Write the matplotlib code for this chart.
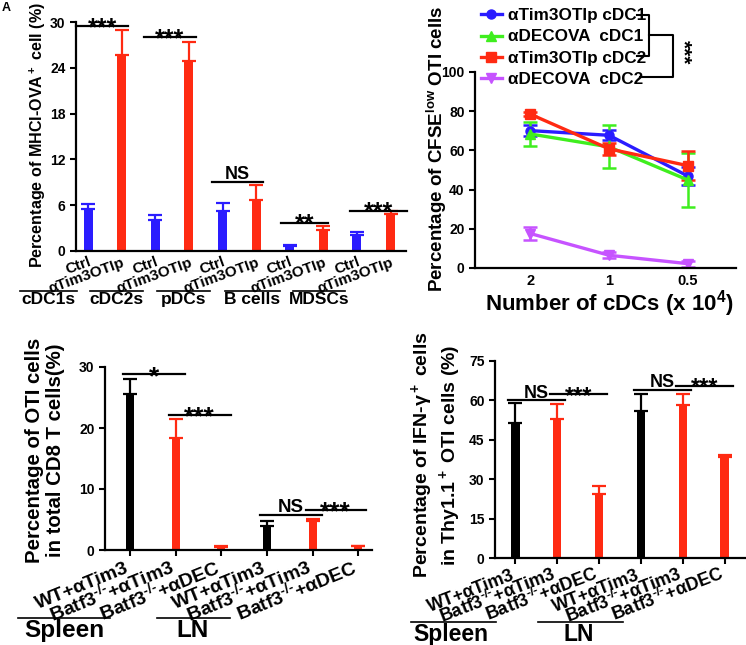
import numpy as np
import matplotlib
matplotlib.use('Agg')
import matplotlib.pyplot as plt
from matplotlib.lines import Line2D

plt.rcParams['font.family'] = ['Liberation Sans', 'DejaVu Sans']
plt.rcParams['font.weight'] = 'bold'
plt.rcParams['mathtext.fontset'] = 'custom'
plt.rcParams['mathtext.rm'] = 'Liberation Sans:bold'
plt.rcParams['mathtext.bf'] = 'Liberation Sans:bold'
plt.rcParams['mathtext.it'] = 'Liberation Sans:bold'
plt.rcParams['mathtext.default'] = 'bf'
plt.rcParams['axes.linewidth'] = 1.6

##
## Panel A data : MHCI-OVA+ cells
##
a_groups = ['cDC1s', 'cDC2s', 'pDCs', 'B cells', 'MDSCs']
a_labels = ['Ctrl', 'αTim3OTIp'] * 5
a_ctrl = [5.5, 4.0, 5.3, 0.6, 2.1]
a_ctrl_err = [0.65, 0.7, 1.0, 0.15, 0.4]
a_tim3 = [25.7, 24.9, 6.7, 2.8, 4.9]
a_tim3_err = [3.3, 2.5, 1.9, 0.5, 0.3]
a_sig = ['***', '***', 'NS', '**', '***']
a_sig_y = [29.5, 28.0, 9.1, 3.7, 5.3]

##
## Panel B data : CFSE low OTI cells
##
b_x = ['2', '1', '0.5']
b_names = ['αTim3OTIp cDC1', 'αDECOVA  cDC1', 'αTim3OTIp cDC2', 'αDECOVA  cDC2']
b_vals = [[70.1, 67.7, 46.9],
          [68.4, 61.8, 44.9],
          [78.5, 60.8, 52.2],
          [17.6, 6.5, 2.2]]
b_errs = [[3.0, 2.5, 4.5],
          [6.3, 11.0, 14.0],
          [1.0, 3.0, 7.5],
          [3.2, 1.5, 1.5]]

##
## Panel C / D data
##
cd_labels = ['WT+αTim3', 'Batf3$^{\u2010/\u2010}$+αTim3', 'Batf3$^{\u2010/\u2010}$+αDEC'] * 2
cd_groups = ['Spleen', 'LN']
c_vals = [25.5, 18.4, 0.55, 3.9, 4.8, 0.6]
c_errs = [2.6, 3.0, 0.15, 0.9, 0.3, 0.1]
d_vals = [51.5, 53.1, 24.3, 55.9, 58.2, 38.4]
d_errs = [7.7, 5.7, 3.0, 6.4, 4.4, 1.0]
c_sig = [('*', 0, 1, 28.8), ('***', 1, 2, 22.1), ('NS', 3, 4, 5.8), ('***', 4, 5, 6.6)]
d_sig = [('NS', 0, 1, 60.1), ('***', 1, 2, 62.3), ('NS', 3, 4, 64.0), ('***', 4, 5, 65.6)]

blue = '#2a1cff'
red = '#ff2a12'
green = '#3fee1e'
magenta = '#c653ff'
black = '#000000'

W, H = 746, 645
fig = plt.figure(figsize=(W/100, H/100), dpi=100)

def px_axes(l, r, t, b):
    return fig.add_axes([l/W, 1 - b/H, (r - l)/W, (b - t)/H])

def fig_line(xs, ys, lw=1.5):
    fig.add_artist(Line2D([x/W for x in xs], [1 - y/H for y in ys], color='k', lw=lw))

def group_label(x0, x1, y, txt, fs, xc=None):
    ## overline + group name, in figure pixels
    fig_line([x0, x1], [y, y], lw=1.2)
    if xc is None:
        xc = (x0 + x1) / 2
    fig.text(xc/W, 1 - (y + 1)/H, txt, ha='center', va='top', fontsize=fs, fontweight='bold')

def style(ax, ls=10):
    ax.spines['top'].set_visible(False)
    ax.spines['right'].set_visible(False)
    ax.tick_params(axis='both', which='major', direction='out', length=4, width=1.5, labelsize=ls)

def sig_line(ax, x0, x1, y, txt, fs_star=17, fs_ns=13):
    ax.plot([x0, x1], [y, y], color='k', lw=1.6, clip_on=False)
    if txt.startswith('*'):
        ax.annotate(txt, ((x0 + x1)/2, y), xytext=(0, -0.36*fs_star), textcoords='offset points',
                    ha='center', va='baseline', fontsize=fs_star, fontweight='bold', annotation_clip=False)
    else:
        ax.annotate(txt, ((x0 + x1)/2, y), xytext=(0, -1), textcoords='offset points',
                    ha='center', va='bottom', fontsize=fs_ns, fontweight='bold', annotation_clip=False)

def set_ylab(ax, txt, fs, x, y):
    lab = ax.set_ylabel(txt, fontsize=fs, fontweight='bold', linespacing=1.15)
    ax.yaxis.set_label_coords(x, y)
    lab.set_va('center')
    lab.set_ha('center')

##
## A
##
axA = px_axes(76, 406, 22, 251)
style(axA)
xa = np.arange(10)
for i in range(5):
    axA.bar(xa[2*i], a_ctrl[i], width=0.27, color=blue)
    axA.errorbar(xa[2*i], a_ctrl[i], yerr=[[0], [a_ctrl_err[i]]], color=blue, capsize=5, elinewidth=1.6, capthick=1.6)
    axA.bar(xa[2*i+1], a_tim3[i], width=0.27, color=red)
    axA.errorbar(xa[2*i+1], a_tim3[i], yerr=[[0], [a_tim3_err[i]]], color=red, capsize=5, elinewidth=1.6, capthick=1.6)
axA.set_xlim(-0.36, 9.46)
axA.set_ylim(0, 30)
axA.set_yticks([0, 6, 12, 18, 24, 30])
axA.set_xticks(xa)
axA.set_xticklabels(a_labels, rotation=20, ha='right', va='top', rotation_mode='anchor', fontsize=11)
axA.tick_params(axis='x', length=0, pad=3)
set_ylab(axA, 'Percentage of MHCI-OVA$^+$ cell (%)', 11.6, -0.115, 0.507)
sig_spans_a = [(-0.36, 1.2), (1.65, 3.2), (3.7, 5.2), (5.75, 7.15), (7.8, 9.5)]
for i in range(5):
    sig_line(axA, sig_spans_a[i][0], sig_spans_a[i][1], a_sig_y[i], a_sig[i], fs_star=18)
a_group_px = [(20, 77), (90, 143), (157, 210), (225, 280), (293, 345)]
for i in range(5):
    group_label(a_group_px[i][0], a_group_px[i][1], 291, a_groups[i], 12.5)
fig.text(2/W, 1 - 2/H, 'A', fontsize=9, fontweight='bold', va='top', ha='left')

##
## B
##
axB = px_axes(475, 736, 72, 268)
style(axB)
colors_b = [blue, green, red, magenta]
markers_b = ['o', '^', 's', 'v']
xb = np.arange(3)
handles = []
for k in range(4):
    axB.errorbar(xb, b_vals[k], yerr=b_errs[k], color=colors_b[k], marker=markers_b[k],
                 ms=6.5, lw=2.4, capsize=5, elinewidth=1.8, capthick=1.8)
    handles.append(Line2D([], [], color=colors_b[k], marker=markers_b[k], ms=6.5, lw=2.4, label=b_names[k]))
axB.set_xlim(-0.7, 2.61)
axB.set_ylim(0, 100)
axB.set_yticks([0, 20, 40, 60, 80, 100])
axB.set_xticks(xb)
axB.set_xticklabels(b_x, fontsize=10.5)
axB.tick_params(axis='x', length=0, pad=4)
set_ylab(axB, 'Percentage of CFSE$^{low}$ OTI cells', 13.5, -0.146, 0.607)
xl = axB.set_xlabel('Number of cDCs (x 10$^4$)', fontsize=16, fontweight='bold')
axB.xaxis.set_label_coords(0.517, -0.18)
xl.set_va('center')
leg = fig.legend(handles=handles, loc='upper left', bbox_to_anchor=(481/W, 1 - 8/H), frameon=False,
                 fontsize=12.3, handlelength=1.2, handletextpad=0.4, labelspacing=0.38, borderaxespad=0,
                 borderpad=0)
for t in leg.get_texts():
    t.set_fontweight('bold')
# bracket
fig_line([637, 649, 649, 637], [15, 15, 56, 56])
fig_line([649, 673, 673, 640], [35, 35, 77, 77])
fig.text(683/W, 1 - 52/H, '***', rotation=-90, ha='center', va='center', fontsize=15, fontweight='bold')

##
## C
##
axC = px_axes(105, 372, 367, 550)
style(axC)
xc = np.arange(6)
bar_cols = [black, red, red, black, red, red]
for i in range(6):
    axC.bar(xc[i], c_vals[i], width=0.18, color=bar_cols[i])
    axC.errorbar(xc[i], c_vals[i], yerr=[[0], [c_errs[i]]], color=bar_cols[i], capsize=5, elinewidth=1.6, capthick=1.6)
axC.set_xlim(-0.55, 5.3)
axC.set_ylim(0, 30)
axC.set_yticks([0, 10, 20, 30])
axC.set_xticks(xc)
axC.set_xticklabels(cd_labels, rotation=22, ha='right', va='baseline', rotation_mode='anchor', fontsize=14)
axC.tick_params(axis='x', length=4, pad=12)
set_ylab(axC, 'Percentage of OTI cells\nin total CD8 T cells(%)', 14.7, -0.225, 0.546)
for txt, i0, i1, y in c_sig:
    sig_line(axC, i0 - 0.15, i1 + 0.2 if i1 < 5 else i1 + 0.16, y, txt, fs_star=19, fs_ns=13.5)
group_label(18, 110, 618, cd_groups[0], 17.5, xc=64)
group_label(157, 230, 618, cd_groups[1], 17.5, xc=193)

##
## D
##
axD = px_axes(495, 745, 361, 558)
style(axD)
for i in range(6):
    axD.bar(xc[i], d_vals[i], width=0.21, color=bar_cols[i])
    axD.errorbar(xc[i], d_vals[i], yerr=[[0], [d_errs[i]]], color=bar_cols[i], capsize=5, elinewidth=1.6, capthick=1.6)
axD.set_xlim(-0.48, 5.48)
axD.set_ylim(0, 75)
axD.set_yticks([0, 15, 30, 45, 60, 75])
axD.set_xticks(xc)
axD.set_xticklabels(cd_labels, rotation=21, ha='right', va='baseline', rotation_mode='anchor', fontsize=13)
axD.tick_params(axis='x', length=4, pad=11)
set_ylab(axD, 'Percentage of IFN-γ$^+$ cells\nin Thy1.1$^+$ OTI cells (%)', 14, -0.236, 0.523)
for txt, i0, i1, y in d_sig:
    sig_line(axD, i0 - 0.17, i1 + 0.19, y, txt, fs_star=17, fs_ns=13)
group_label(411, 496, 622, cd_groups[0], 16.5, xc=451)
group_label(538, 623, 622, cd_groups[1], 16.5, xc=579)

plt.savefig('out.png', dpi=100)
